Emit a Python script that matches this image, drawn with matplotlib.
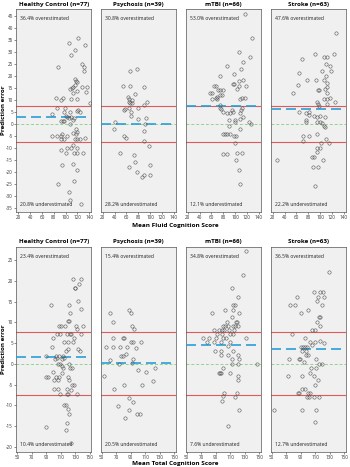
import numpy as np
import matplotlib.pyplot as plt

plt.rcParams['axes.unicode_minus'] = False
plt.rcParams['font.family'] = ['Open Sans', 'DejaVu Sans']

groups = ["Healthy Control (n=77)", "Psychosis (n=39)", "mTBI (n=66)", "Stroke (n=63)"]

# Fluid cognition (top row)
hc_fluid_x = [87, 106, 121, 116, 110, 133, 128, 131, 132, 116, 117, 119, 116, 113, 111, 107, 120, 128, 136, 135,
              112, 83, 95, 93, 110, 120, 141, 85, 99, 121, 124, 77, 98, 108, 119, 100, 103, 109, 115, 92,
              95, 98, 105, 112, 107, 117, 119, 118, 112, 94, 77, 86, 92, 102, 93, 98, 116, 120, 125, 133,
              112, 92, 102, 110, 120, 100, 114, 120, 129, 94, 112, 120, 114, 87, 106, 107, 126]
hc_fluid_y = [24, 34, 36, 31, 29, 33, 25, 24, 22, 19, 18, 17.5, 16.5, 15.5, 15, 14.5, 14, 15.5, 15.5, 13.5,
              13, 11, 11, 10, 10.5, 10.5, 9, 7, 7, 6, 5, 4.5, 5, 5, 5.5, 3.5, 3, 3.2, 2.8, 1.5,
              1.5, 1.5, 2.5, 2, 0, -2, -3, -4, -3.5, -4, -4.7, -4.7, -4.7, -4.7, -6, -6, -6, -6, -6, -5.5,
              -8.5, -10.5, -9.7, -9.7, -9.7, -12, -12, -12, -12, -17, -16.5, -19, -23.5, -25, -28, -31.7, -33]

psy_fluid_x = [66, 78, 54, 66, 89, 75, 63, 64, 65, 66, 70, 70, 95, 89, 58, 65, 80, 93, 68, 68,
               56, 41, 39, 56, 59, 80, 91, 89, 90, 98, 49, 73, 75, 64, 78, 99, 90, 87, 99]
psy_fluid_y = [22.2, 23.1, 16.1, 16.1, 15.5, 12.8, 11.5, 10.5, 9.5, 9, 10, 9, 9.2, 8, 6.2, 7, 7, 2.7, 5, 3.6,
               6, 1.1, -1.9, -4.7, -5.8, 2.2, 0, -2.8, -7, -8.9, -11.9, -12.8, -15.8, -17.8, -19.7, -16.9, -21.1, -21.9, -21.1]

mtbi_fluid_x = [117.5, 129, 106, 125, 114, 86, 110, 98, 74, 114, 107, 96, 98, 64, 68, 118, 106, 71, 75, 80,
                104, 58, 61, 75, 78, 70, 67, 111, 109, 61, 69, 116, 75, 75, 77, 111, 108, 79, 86, 91,
                94, 110, 89, 109, 114, 100, 100, 89, 107.5, 124, 127, 79, 83, 87, 92, 98, 102, 100, 80, 87,
                102.5, 111, 102, 107, 109, 97]
mtbi_fluid_y = [46, 36, 30.3, 28, 26, 24.2, 23, 21, 20.3, 18.6, 18, 16.7, 16.7, 16, 16, 15.8, 16, 14.2, 14.2, 14.2,
                14.5, 13, 13, 12.3, 12.3, 11.3, 11, 11, 10.5, 10.7, 10.7, 11, 8.1, 7, 6.5, 6.7, 4.7, 5.3, 4.7, 4.7,
                6, 6, 1.9, 2.2, 3, 0.9, 1.7, -0.5, -1.9, 1.1, 0, -3.9, -3.9, -3.9, -3.9, -5, -5, -7.8, -12.5, -12.5,
                -11.9, -11.9, -15, -18.9, -25, 5]

stroke_fluid_x = [127, 91.5, 123, 70, 106, 112, 110, 117, 104, 118.5, 64.5, 110, 78, 93, 106, 62, 112, 111, 108, 96,
                  99, 55, 112.5, 117, 106, 111, 125.6, 94, 96, 98, 111, 81, 76, 81, 89, 94, 100, 65,
                  77, 77, 95, 100, 104, 106, 108, 109, 71, 81, 71, 95, 109.6, 102, 115, 94, 100, 94.4, 87, 90,
                  105, 27.6, 88, 97, 92]
stroke_fluid_y = [38, 29.2, 29.2, 27, 28, 28, 25.3, 24.2, 22.3, 22.3, 21.2, 20.3, 18.3, 18.3, 18.3, 16.3, 17.2, 15.5, 14.7, 14.2,
                  14.2, 13.1, 13.1, 11.1, 10.4, 10.4, 9.2, 9.2, 8.3, 7.6, 8.3, 5.3, 4.7, 4, 3.5, 3, 3.5, 5.3,
                  2, 1, 1, 1, 0.6, -0.6, -1.1, 3.1, -4.7, -4.7, -7, -3.9, -6.1, -7.8, -7.8, -10, -10, -11.7, -13.6, -13.6,
                  -15, -15, -17.8, -17.8, -25.8]

# Total cognition (bottom row)
hc_total_x = [97, 126.6, 138, 135, 129, 130, 133, 121.5, 138, 122.5, 120.5, 121.5, 108, 110, 116, 130.7, 140, 131.7, 105, 108.5,
              119, 122, 124, 138, 99.5, 128, 114, 120, 127, 98, 120, 133,
              117, 137, 90, 104, 107, 105, 112, 102, 106, 109.5, 121, 113, 123, 125, 98.6, 111.6, 90, 93, 104, 107, 120,
              101, 105.5, 121.5, 125, 128, 123.5, 101, 106, 118, 108.6, 119, 120, 132, 114.3, 117, 120, 121, 118, 89.4,
              116.5, 124.5, 113, 115, 111]
hc_total_y = [14.2, 20.4, 20.4, 19.4, 18.3, 18.3, 15.2, 14.2, 13.3, 12.2, 10.4, 10.4, 9.2, 9.2, 9.2, 9.2, 9.2, 8.3, 7.3, 7.3,
              7.3, 7.3, 7.3, 7.3, 6.2, 6.2, 5.2, 5.2, 5.2, 4.1, 3.6, 3.6,
              3.2, 3, 1.9, 1.9, 1.9, 1.4, 1.1, 1.2, 0, 0, 0, -1, -1, -1, -2, -2.2, -3.1, -3.1, -3.1, -3.1, -3.1,
              -3.9, -3.9, -4, -5.2, -5.2, -6.2, -6, -6, -6, -7.2, -7.2, -7.2, -7.2, -10, -10, -11, -12, -14.2, -15.3,
              -16.1, -19.2, 2, 1.5, -0.5]

psy_total_x = [61, 87, 90.6, 66, 91, 94, 66, 79, 81, 90, 92.5, 103.5, 55.5, 66, 75, 85, 77, 79, 93.5, 74,
               91, 53, 111, 123, 81, 106, 121, 67, 88, 92.5, 73, 87, 99, 103, 82, 84, 97, 62, 100]
psy_total_y = [12.2, 13.1, 12.2, 10.2, 9.2, 8.3, 6.2, 6.2, 6.2, 5.2, 5.2, 5.2, 4.1, 4.1, 4.1, 4.1, 2, 2, 1.2, -0.1,
               0.2, -3, -2, -1.1, -5, -5, -4.2, -6.1, -8.2, -9.2, -10.1, -11.2, -12.2, -12.2, -13.2, 2.5, 3.8, 1, -1.5]

mtbi_total_x = [131, 127, 112, 120, 102, 113, 114, 116, 85, 122.6, 112, 118, 119, 105, 121, 100, 103, 107, 113, 116,
                88, 95, 98, 101, 108.6, 115, 91, 99, 109, 114, 72.5, 81, 90, 100, 103.6, 131.7, 78, 88, 97, 109,
                107, 89, 97.6, 113.6, 107, 121, 122, 97, 112, 112, 146, 121, 99.4, 94, 95.5, 97, 109, 120, 120, 101.5,
                100, 98, 119, 116, 122, 107]
mtbi_total_y = [27.3, 21.4, 18.3, 16.2, 13.1, 13.1, 14.2, 14.2, 12.2, 12.2, 11.2, 10.2, 10.2, 10.2, 9.2, 9.2, 9.2, 9.2, 9.2, 9.2,
                8.2, 8.2, 8.2, 8.2, 8.2, 8.2, 7.3, 7.3, 7.3, 7.3, 6.2, 6.2, 6.2, 6.2, 6.2, 6.2, 5.2, 5.2, 5.2, 5.2,
                4.2, 3.1, 3.1, 3.1, 2.1, 2.1, 1.2, 2.1, 1.2, 0, 0, 0, -1.1, -2.1, -2.1, -2.1, -2.1, -3, -4, -7.1,
                -7.8, -9, -7.1, -7.9, -11.1, -15.1]

stroke_total_x = [128.5, 108, 117, 120, 85, 114, 122, 111.6, 75, 82.4, 100.4, 119, 90, 114.6, 116, 112, 116.3, 104.8, 109.3, 77.6,
                  96.3, 102, 110, 122, 90, 93, 96,
                  97.4, 91.5, 96.8, 99.5, 73.3, 87.5, 89, 110.9, 115, 119, 111.3, 102, 73, 92, 108.5, 110, 92, 96, 86.6,
                  87.5, 100, 103, 108, 115, 99, 101, 53.2, 91.5, 110.6, 109, 106, 99, 117, 104, 94, 113]
stroke_total_y = [22.3, 17.3, 17.3, 17.3, 16.2, 16.2, 16.2, 15.2, 14.2, 14.2, 13.1, 14.2, 12.4, 11.2, 11.2, 10.2, 9.1, 8.2, 8.2, 7.3,
                  6.2, 5.2, 5.2, 5.1, 4.1, 4.1, 4.1,
                  3.1, 3.1, 2.1, 2.1, 1.2, 1.2, 1.2, 1.2, 0, 0, -0.9, -2.1, -2.9, -2.9, -2.9, -5, -6.1, -6.1, -7.1,
                  -7.1, -7.1, -7.1, -8.1, -8.1, -8, -8, -11.1, -11.1, -11.1, -14, 4.5, 4, 5.5, -1, 0.5, -4]

fluid_over = ["36.4%", "30.8%", "53.0%", "47.6%"]
fluid_under = ["20.8%", "28.2%", "12.1%", "22.2%"]
total_over = ["23.4%", "15.4%", "34.8%", "36.5%"]
total_under = ["10.4%", "20.5%", "7.6%", "12.7%"]

fluid_mean = [3.1, 0.0, 7.7, 6.2]
total_mean = [1.6, 0.1, 4.5, 3.7]
fluid_limits = [7.6, -7.4]
total_limits = [7.6, -7.6]

rows = [
    dict(xs=[hc_fluid_x, psy_fluid_x, mtbi_fluid_x, stroke_fluid_x],
         ys=[hc_fluid_y, psy_fluid_y, mtbi_fluid_y, stroke_fluid_y],
         over=fluid_over, under=fluid_under, mean=fluid_mean, lim=fluid_limits,
         xlim=(17, 143), ylim=(-36.5, 48), xticks=np.arange(20, 141, 20), yticks=np.arange(-35, 46, 5),
         bottom=0.546, height=0.4347, xlabel="Mean Fluid Cognition Score", xlab_y=1 - 225 / 467),
    dict(xs=[hc_total_x, psy_total_x, mtbi_total_x, stroke_total_x],
         ys=[hc_total_y, psy_total_y, mtbi_total_y, stroke_total_y],
         over=total_over, under=total_under, mean=total_mean, lim=total_limits,
         xlim=(49, 151.5), ylim=(-21.3, 28.3), xticks=np.arange(50, 151, 20), yticks=np.arange(-20, 26, 5),
         bottom=0.0321, height=0.4396, xlabel="Mean Total Cognition Score", xlab_y=1 - 463 / 467),
]

lefts = [0.0471, 0.2886, 0.5314, 0.7743]
width = 0.2129

fig = plt.figure(figsize=(3.5, 4.67), dpi=100)

for row in rows:
    for i in range(4):
        ax = fig.add_axes([lefts[i], row['bottom'], width, row['height']])
        ax.set_facecolor('#f0f0f0')
        for s in ax.spines.values():
            s.set_linewidth(0.5)
            s.set_color('#555555')
        ax.axhline(row['lim'][0], color='#e05a5a', lw=0.8, zorder=2)
        ax.axhline(row['lim'][1], color='#e05a5a', lw=0.8, zorder=2)
        ax.axhline(0, color='#8fd48f', lw=0.7, ls=(0, (3, 2)), zorder=2)
        ax.axhline(row['mean'][i], color='#2a9fd6', lw=1.2, ls=(0, (6, 3)), zorder=3)
        ax.plot(row['xs'][i], row['ys'][i], 'o', ms=2.4, mfc='none', mec='#555555', mew=0.4, zorder=4)
        ax.set_xlim(*row['xlim'])
        ax.set_ylim(*row['ylim'])
        ax.set_xticks(row['xticks'])
        ax.tick_params(axis='x', labelsize=3.3, length=1.5, width=0.4, pad=1, colors='#333333')
        if i == 0:
            ax.set_yticks(row['yticks'])
            ax.tick_params(axis='y', labelsize=3.3, length=1.5, width=0.4, pad=1, colors='#333333')
        else:
            ax.set_yticks([])
        ax.set_title(groups[i], fontsize=4.5, fontweight='bold', pad=2.5)
        ax.text(0.05, 0.965, row['over'][i] + " overestimated", transform=ax.transAxes,
                fontsize=3.6, va='top', ha='left', color='#222222')
        ax.text(0.05, 0.025, row['under'][i] + " underestimated", transform=ax.transAxes,
                fontsize=3.6, va='bottom', ha='left', color='#222222')
    fig.text(0.5, row['xlab_y'], row['xlabel'], fontsize=4.6, fontweight='bold', ha='center', va='center')
    fig.text(0.011, row['bottom'] + row['height'] / 2, "Prediction error", fontsize=4.5, fontweight='bold',
             rotation=90, ha='center', va='center')

fig.savefig('out.png', dpi=100)
